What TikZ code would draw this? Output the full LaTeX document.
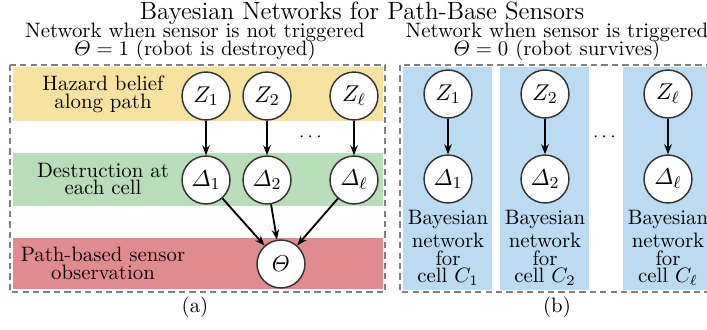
\documentclass[tikz,border=0pt]{standalone}
\usepackage{amsmath}
\usepackage{amsfonts}
\usepackage{amssymb}
\usepackage{tikz}
\usetikzlibrary{bayesnet, positioning, arrows.meta}

\definecolor{hazardcol}{HTML}{F8E2A0}
\definecolor{destrcol}{HTML}{B8DDB9}
\definecolor{sensorcol}{HTML}{E08C8E}
\definecolor{cellcol}{HTML}{BADBF2}

\tikzset{
	var/.style = {latent, minimum size = 23pt, inner sep = 0pt, draw = black!80, line width = 0.7pt, font = \fontsize{11}{11}\selectfont},
	arr/.style = {>={Stealth[length = 4.8pt, width = 3.6pt]}, line width = 0.9pt},
	frame/.style = {draw = black!50, dash pattern = on 3pt off 2pt, line width = 0.5pt},
	rowlabel/.style = {align = center},
}

\begin{document}
\begin{tikzpicture}[x = 0.48pt, y = -0.48pt]
	
	\path[use as bounding box, clip] (0,0) rectangle (707,329);
	
	\fill[hazardcol] (13,67) rectangle (383,121);
	\fill[destrcol] (13,153) rectangle (383,206);
	\fill[sensorcol] (13,238) rectangle (383,289);
	\draw[frame] (10,65) rectangle (385,292);
	
	\foreach \xa in {403, 500, 623}
		\fill[cellcol] (\xa,67) rectangle ++(89,223);
	\draw[frame] (400,65) rectangle (730,292);
	
	\node[font = \large] (title) at (362,13) {Bayesian Networks for Path-Base Sensors};
	\node[align = center] (sub_a) at (195,42) {Network when sensor is not triggered\\[-3.4pt]$\varTheta = 1$ (robot is destroyed)};
	\node[align = center] (sub_b) at (557,42) {Network when sensor is triggered\\[-3.4pt]$\varTheta = 0$ (robot survives)};
	
	\node[rowlabel] (hazard) at (103,94) {Hazard belief\\[-3.4pt]along path};
	\node[rowlabel] (destr) at (103,179) {Destruction at\\[-3.4pt]each cell};
	\node[rowlabel] (sensor) at (103,263) {Path-based sensor\\[-3.4pt]observation};
	
	\node[var] (z1) at (206,96) {$Z_1$};
	\node[var] (z2) at (267,96) {$Z_2$};
	\node[var] (zl) at (354,96) {$Z_\ell$};
	\node[var] (d1) at (206,180) {$\varDelta_1$};
	\node[var] (d2) at (267,180) {$\varDelta_2$};
	\node[var] (dl) at (354,180) {$\varDelta_\ell$};
	\node[var] (theta) at (281,264) {$\varTheta$};
	\node[font = \small] (dots_a) at (312,137) {$\cdots$};
	
	\edge[arr]{z1}{d1};
	\edge[arr]{z2}{d2};
	\edge[arr]{zl}{dl};
	\edge[arr]{d1,d2,dl}{theta};
	
	\node[var] (rz1) at (448,94) {$Z_1$};
	\node[var] (rz2) at (545,94) {$Z_2$};
	\node[var] (rzl) at (668,94) {$Z_\ell$};
	\node[var] (rd1) at (448,179) {$\varDelta_1$};
	\node[var] (rd2) at (545,179) {$\varDelta_2$};
	\node[var] (rdl) at (668,179) {$\varDelta_\ell$};
	\node[font = \small] (dots_b) at (606,137) {$\cdots$};
	
	\node[rowlabel] (cell1) at (448,248) {Bayesian\\[-1pt]network\\[-3.6pt]for\\[-3.6pt]cell $C_1$};
	\node[rowlabel] (cell2) at (545,248) {Bayesian\\[-1pt]network\\[-3.6pt]for\\[-3.6pt]cell $C_2$};
	\node[rowlabel] (celll) at (668,248) {Bayesian\\[-1pt]network\\[-3.6pt]for\\[-3.6pt]cell $C_\ell$};
	
	\edge[arr]{rz1}{rd1};
	\edge[arr]{rz2}{rd2};
	\edge[arr]{rzl}{rdl};
	
	\node (cap_a) at (195,307) {(a)};
	\node (cap_b) at (557,307) {(b)};
	
\end{tikzpicture}
\end{document}
